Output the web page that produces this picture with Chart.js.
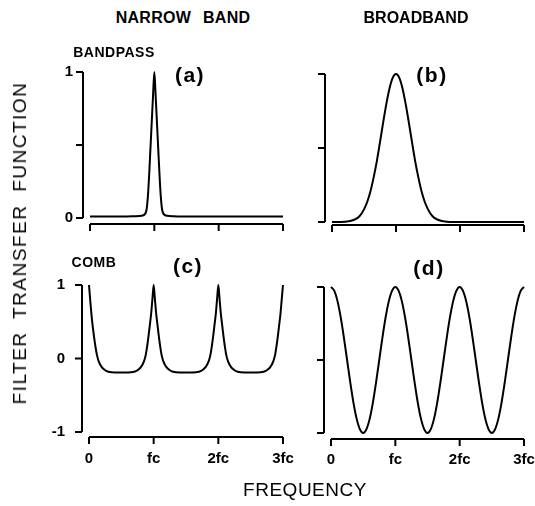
<!DOCTYPE html>
<html>
<head>
<meta charset="utf-8">
<script src="https://cdn.jsdelivr.net/npm/chart.js@4.4.0/dist/chart.umd.min.js"></script>
<style>
  body { margin: 0; background: #fff; }
  #page { position: relative; width: 535px; height: 506px; overflow: hidden; background: #fff;
          font-family: "Liberation Sans", Arial, sans-serif; color: #000; }
  canvas { position: absolute; }
  .lbl { position: absolute; white-space: nowrap; transform: translate(-50%, -50%); font-weight: bold; }
</style>
</head>
<body>
<div id="page">
  <canvas id="chartA" width="290" height="200" style="left:0;top:50px"></canvas>
  <canvas id="chartB" width="265" height="200" style="left:270px;top:50px"></canvas>
  <canvas id="chartC" width="300" height="230" style="left:0;top:250px"></canvas>
  <canvas id="chartD" width="265" height="230" style="left:270px;top:250px"></canvas>

  <div class="lbl" style="left:183px;top:18px;font-size:16px;letter-spacing:0.3px;word-spacing:7px">NARROW BAND</div>
  <div class="lbl" style="left:416px;top:18px;font-size:16px">BROADBAND</div>
  <div class="lbl" style="left:114px;top:52px;font-size:14px;letter-spacing:0.5px">BANDPASS</div>
  <div class="lbl" style="left:94px;top:262px;font-size:14px;letter-spacing:0.5px">COMB</div>
  <div class="lbl" style="left:190px;top:75px;font-size:21px;letter-spacing:1.5px">(a)</div>
  <div class="lbl" style="left:432px;top:75px;font-size:21px;letter-spacing:1.5px">(b)</div>
  <div class="lbl" style="left:188px;top:266px;font-size:21px;letter-spacing:1.5px">(c)</div>
  <div class="lbl" style="left:429px;top:268px;font-size:21px;letter-spacing:1.5px">(d)</div>
  <div class="lbl" style="left:20px;top:243px;font-size:19px;font-weight:normal;letter-spacing:1.5px;word-spacing:6px;transform:translate(-50%,-50%) rotate(-90deg)">FILTER TRANSFER FUNCTION</div>
  <div class="lbl" style="left:305px;top:490px;font-size:19px;font-weight:normal;letter-spacing:0.5px">FREQUENCY</div>
</div>

<script>
// frequency axis, in units of fc
const freqTicks = ['0', 'fc', '2fc', '3fc'];
const gainTicksTop = { '0': '0', '0.5': '', '1': '1' };
const gainTicksBottom = { '-1': '-1', '0': '0', '1': '1' };

// (a) narrow band bandpass
const narrowFreq = [0, 0.25, 0.5, 0.7, 0.8, 0.86, 0.88, 0.9, 0.92, 0.94, 0.96, 0.98, 1.0,
                    1.02, 1.04, 1.06, 1.08, 1.1, 1.12, 1.14, 1.2, 1.3, 1.5, 2.0, 2.5, 3.0];
const narrowGain = [0.01, 0.01, 0.01, 0.012, 0.015, 0.03, 0.06, 0.15, 0.3, 0.48, 0.66, 0.84, 1.0,
                    0.84, 0.66, 0.48, 0.3, 0.15, 0.06, 0.03, 0.015, 0.012, 0.01, 0.01, 0.01, 0.01];

// (b) broadband bandpass
const broadFreq = [0, 0.2, 0.3, 0.4, 0.45, 0.5, 0.55, 0.6, 0.65, 0.7, 0.75, 0.8, 0.85, 0.9, 0.95, 1.0,
                   1.05, 1.1, 1.15, 1.2, 1.25, 1.3, 1.35, 1.4, 1.45, 1.5, 1.55, 1.6, 1.7, 1.8, 2.0, 2.5, 3.0];
const broadGain = [0, 0.002, 0.008, 0.028, 0.05, 0.085, 0.135, 0.206, 0.3, 0.41, 0.54, 0.674, 0.8, 0.906, 0.976, 1.0,
                   0.976, 0.906, 0.8, 0.674, 0.54, 0.41, 0.3, 0.206, 0.135, 0.085, 0.05, 0.028, 0.008, 0.002, 0, 0, 0];

// (c) narrow band comb
const combFreq = [0, 0.02, 0.04, 0.06, 0.08, 0.1, 0.12, 0.15, 0.2, 0.25, 0.3, 0.4, 0.5, 0.6, 0.7, 0.75, 0.8, 0.85, 0.88, 0.9, 0.92, 0.94, 0.96, 0.98,
                  1, 1.02, 1.04, 1.06, 1.08, 1.1, 1.12, 1.15, 1.2, 1.25, 1.3, 1.4, 1.5, 1.6, 1.7, 1.75, 1.8, 1.85, 1.88, 1.9, 1.92, 1.94, 1.96, 1.98,
                  2, 2.02, 2.04, 2.06, 2.08, 2.1, 2.12, 2.15, 2.2, 2.25, 2.3, 2.4, 2.5, 2.6, 2.7, 2.75, 2.8, 2.85, 2.88, 2.9, 2.92, 2.94, 2.96, 2.98, 3];
const combGain = [1, 0.78, 0.58, 0.42, 0.28, 0.16, 0.06, -0.04, -0.12, -0.16, -0.18, -0.19, -0.19, -0.19, -0.18, -0.16, -0.12, -0.04, 0.06, 0.17, 0.3, 0.45, 0.6, 0.8,
                  1, 0.8, 0.6, 0.45, 0.3, 0.17, 0.06, -0.04, -0.12, -0.16, -0.18, -0.19, -0.19, -0.19, -0.18, -0.16, -0.12, -0.04, 0.06, 0.17, 0.3, 0.45, 0.6, 0.8,
                  1, 0.8, 0.6, 0.45, 0.3, 0.17, 0.06, -0.04, -0.12, -0.16, -0.18, -0.19, -0.19, -0.19, -0.18, -0.16, -0.12, -0.04, 0.06, 0.17, 0.3, 0.45, 0.6, 0.8, 1];

// (d) broadband comb
const wideFreq = [0, 0.05, 0.1, 0.15, 0.2, 0.25, 0.3, 0.35, 0.4, 0.45, 0.5, 0.55, 0.6, 0.65, 0.7, 0.75, 0.8, 0.85, 0.9, 0.95,
                  1, 1.05, 1.1, 1.15, 1.2, 1.25, 1.3, 1.35, 1.4, 1.45, 1.5, 1.55, 1.6, 1.65, 1.7, 1.75, 1.8, 1.85, 1.9, 1.95,
                  2, 2.05, 2.1, 2.15, 2.2, 2.25, 2.3, 2.35, 2.4, 2.45, 2.5, 2.55, 2.6, 2.65, 2.7, 2.75, 2.8, 2.85, 2.9, 2.95, 3];
const wideGain = [1, 0.95, 0.81, 0.59, 0.31, 0, -0.31, -0.59, -0.81, -0.95, -1, -0.95, -0.81, -0.59, -0.31, 0, 0.31, 0.59, 0.81, 0.95,
                  1, 0.95, 0.81, 0.59, 0.31, 0, -0.31, -0.59, -0.81, -0.95, -1, -0.95, -0.81, -0.59, -0.31, 0, 0.31, 0.59, 0.81, 0.95,
                  1, 0.95, 0.81, 0.59, 0.31, 0, -0.31, -0.59, -0.81, -0.95, -1, -0.95, -0.81, -0.59, -0.31, 0, 0.31, 0.59, 0.81, 0.95, 1];

// draws the detached bracket style axes of the original figure
const bracketAxes = {
  id: 'bracketAxes',
  afterDatasetsDraw(chart, args, opts) {
    const ctx = chart.ctx;
    const xs = chart.scales.x;
    const ys = chart.scales.y;
    const area = chart.chartArea;
    const axisX = area.left - 7;
    const axisY = area.bottom + opts.gap;
    const tick = 7;
    ctx.save();
    ctx.strokeStyle = '#000';
    ctx.lineWidth = 2;
    ctx.beginPath();
    ctx.moveTo(axisX, ys.getPixelForValue(ys.max));
    ctx.lineTo(axisX, ys.getPixelForValue(ys.min));
    ys.ticks.forEach(t => {
      const p = ys.getPixelForValue(t.value);
      ctx.moveTo(axisX - tick, p);
      ctx.lineTo(axisX, p);
    });
    ctx.moveTo(xs.getPixelForValue(xs.min), axisY);
    ctx.lineTo(xs.getPixelForValue(xs.max), axisY);
    xs.ticks.forEach(t => {
      const p = xs.getPixelForValue(t.value);
      ctx.moveTo(p, axisY);
      ctx.lineTo(p, axisY + tick);
    });
    ctx.stroke();
    ctx.restore();
  }
};

function makePanel(canvasId, freq, gain, o) {
  const labelFont = { family: '"Liberation Sans", Arial, sans-serif', size: 15, weight: 'bold' };
  return new Chart(document.getElementById(canvasId), {
    type: 'line',
    data: {
      datasets: [{
        data: freq.map((f, i) => ({ x: f, y: gain[i] })),
        borderColor: '#000',
        borderWidth: 2,
        pointRadius: 0,
        cubicInterpolationMode: 'monotone',
        fill: false,
        clip: false
      }]
    },
    options: {
      responsive: false,
      animation: false,
      devicePixelRatio: 1,
      layout: { padding: { top: o.padTop, right: o.padRight, left: 0, bottom: 0 } },
      plugins: {
        legend: { display: false },
        tooltip: { enabled: false },
        bracketAxes: { gap: o.gap }
      },
      scales: {
        x: {
          type: 'linear',
          min: 0,
          max: 3,
          grid: { display: false, drawTicks: false },
          border: { display: false },
          ticks: {
            display: o.xLabels,
            stepSize: 1,
            autoSkip: false,
            maxRotation: 0,
            padding: 18,
            color: '#000',
            font: labelFont,
            callback: v => freqTicks[v]
          },
          afterFit: s => {
            s.height = o.xHeight;
            s.paddingLeft = 0;
            s.paddingRight = 0;
          }
        },
        y: {
          type: 'linear',
          min: o.yMin,
          max: 1,
          grid: { display: false, drawTicks: false },
          border: { display: false },
          ticks: {
            display: o.yLabels,
            stepSize: o.yStep,
            padding: o.yPad,
            color: '#000',
            font: labelFont,
            callback: v => o.yNames[String(v)]
          },
          afterFit: s => {
            s.width = o.yWidth;
            s.paddingTop = 0;
            s.paddingBottom = 0;
          }
        }
      }
    },
    plugins: [bracketAxes]
  });
}

makePanel('chartA', narrowFreq, narrowGain, {
  padTop: 22, padRight: 7, xHeight: 32, yWidth: 90, gap: 6, yPad: 17,
  yMin: 0, yStep: 0.5, yNames: gainTicksTop, xLabels: false, yLabels: true
});
makePanel('chartB', broadFreq, broadGain, {
  padTop: 24, padRight: 11, xHeight: 28, yWidth: 62, gap: 3, yPad: 17,
  yMin: 0, yStep: 0.5, yNames: gainTicksTop, xLabels: false, yLabels: false
});
makePanel('chartC', combFreq, combGain, {
  padTop: 35, padRight: 17, xHeight: 48, yWidth: 89, gap: 5, yPad: 24,
  yMin: -1, yStep: 1, yNames: gainTicksBottom, xLabels: true, yLabels: true
});
makePanel('chartD', wideFreq, wideGain, {
  padTop: 37, padRight: 11, xHeight: 47, yWidth: 61, gap: 6, yPad: 17,
  yMin: -1, yStep: 1, yNames: gainTicksBottom, xLabels: true, yLabels: false
});
</script>
</body>
</html>
